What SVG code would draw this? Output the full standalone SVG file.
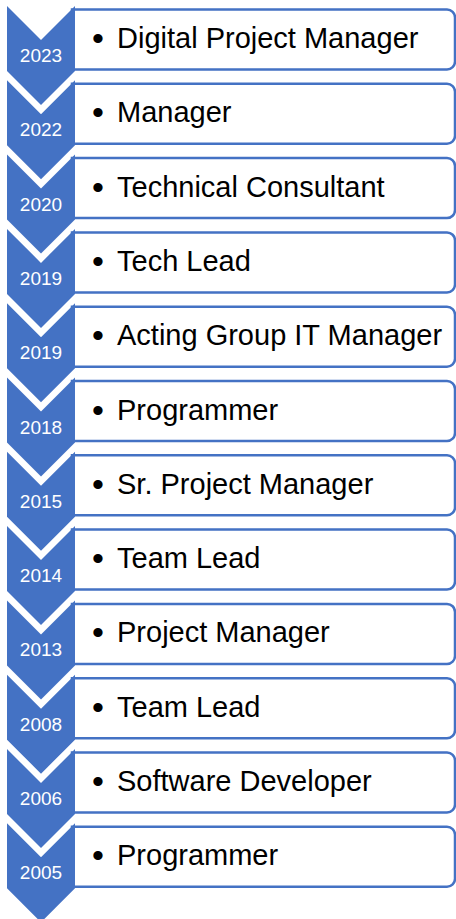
<svg xmlns="http://www.w3.org/2000/svg" xmlns:xlink="http://www.w3.org/1999/xlink" width="456" height="919" viewBox="0 0 456 919">
<style>
.box{fill:#ffffff;stroke:#4472C4;stroke-width:2.5}
.chev{fill:#4472C4;stroke:none}
.yr{font-family:"Liberation Sans",Arial,sans-serif;font-size:19px;fill:#ffffff;text-anchor:middle}
.lbl{font-family:"Liberation Sans",Arial,sans-serif;font-size:29px;fill:#000000}
.bul{font-size:34px}
</style>
<defs>
<path id="boxShape" d="M72,9.5 H447 A8,8 0 0 1 455,17.5 V61.5 A8,8 0 0 1 447,69.5 H72 Z"/>
<path id="chevShape" d="M7,6 L41,40 L75,6 L75,71 L41,105 L7,71 Z"/>
</defs>
<rect width="456" height="919" fill="#ffffff"/>
<g id="node-2023"><use href="#boxShape" class="box"/><use href="#chevShape" class="chev"/><text class="yr" x="41" y="62">2023</text><text class="lbl" y="48"><tspan class="bul" x="92" y="50">•</tspan><tspan x="117" y="48">Digital Project Manager</tspan></text></g>
<g id="node-2022" transform="translate(0,74.3)"><use href="#boxShape" class="box"/><use href="#chevShape" class="chev"/><text class="yr" x="41" y="62">2022</text><text class="lbl" y="48"><tspan class="bul" x="92" y="50">•</tspan><tspan x="117" y="48">Manager</tspan></text></g>
<g id="node-2020" transform="translate(0,148.6)"><use href="#boxShape" class="box"/><use href="#chevShape" class="chev"/><text class="yr" x="41" y="62">2020</text><text class="lbl" y="48"><tspan class="bul" x="92" y="50">•</tspan><tspan x="117" y="48">Technical Consultant</tspan></text></g>
<g id="node-2019a" transform="translate(0,222.9)"><use href="#boxShape" class="box"/><use href="#chevShape" class="chev"/><text class="yr" x="41" y="62">2019</text><text class="lbl" y="48"><tspan class="bul" x="92" y="50">•</tspan><tspan x="117" y="48">Tech Lead</tspan></text></g>
<g id="node-2019b" transform="translate(0,297.2)"><use href="#boxShape" class="box"/><use href="#chevShape" class="chev"/><text class="yr" x="41" y="62">2019</text><text class="lbl" y="48"><tspan class="bul" x="92" y="50">•</tspan><tspan x="117" y="48">Acting Group IT Manager</tspan></text></g>
<g id="node-2018" transform="translate(0,371.5)"><use href="#boxShape" class="box"/><use href="#chevShape" class="chev"/><text class="yr" x="41" y="62">2018</text><text class="lbl" y="48"><tspan class="bul" x="92" y="50">•</tspan><tspan x="117" y="48">Programmer</tspan></text></g>
<g id="node-2015" transform="translate(0,445.8)"><use href="#boxShape" class="box"/><use href="#chevShape" class="chev"/><text class="yr" x="41" y="62">2015</text><text class="lbl" y="48"><tspan class="bul" x="92" y="50">•</tspan><tspan x="117" y="48">Sr. Project Manager</tspan></text></g>
<g id="node-2014" transform="translate(0,520.1)"><use href="#boxShape" class="box"/><use href="#chevShape" class="chev"/><text class="yr" x="41" y="62">2014</text><text class="lbl" y="48"><tspan class="bul" x="92" y="50">•</tspan><tspan x="117" y="48">Team Lead</tspan></text></g>
<g id="node-2013" transform="translate(0,594.4)"><use href="#boxShape" class="box"/><use href="#chevShape" class="chev"/><text class="yr" x="41" y="62">2013</text><text class="lbl" y="48"><tspan class="bul" x="92" y="50">•</tspan><tspan x="117" y="48">Project Manager</tspan></text></g>
<g id="node-2008" transform="translate(0,668.7)"><use href="#boxShape" class="box"/><use href="#chevShape" class="chev"/><text class="yr" x="41" y="62">2008</text><text class="lbl" y="48"><tspan class="bul" x="92" y="50">•</tspan><tspan x="117" y="48">Team Lead</tspan></text></g>
<g id="node-2006" transform="translate(0,743)"><use href="#boxShape" class="box"/><use href="#chevShape" class="chev"/><text class="yr" x="41" y="62">2006</text><text class="lbl" y="48"><tspan class="bul" x="92" y="50">•</tspan><tspan x="117" y="48">Software Developer</tspan></text></g>
<g id="node-2005" transform="translate(0,817.3)"><use href="#boxShape" class="box"/><use href="#chevShape" class="chev"/><text class="yr" x="41" y="62">2005</text><text class="lbl" y="48"><tspan class="bul" x="92" y="50">•</tspan><tspan x="117" y="48">Programmer</tspan></text></g>
</svg>
